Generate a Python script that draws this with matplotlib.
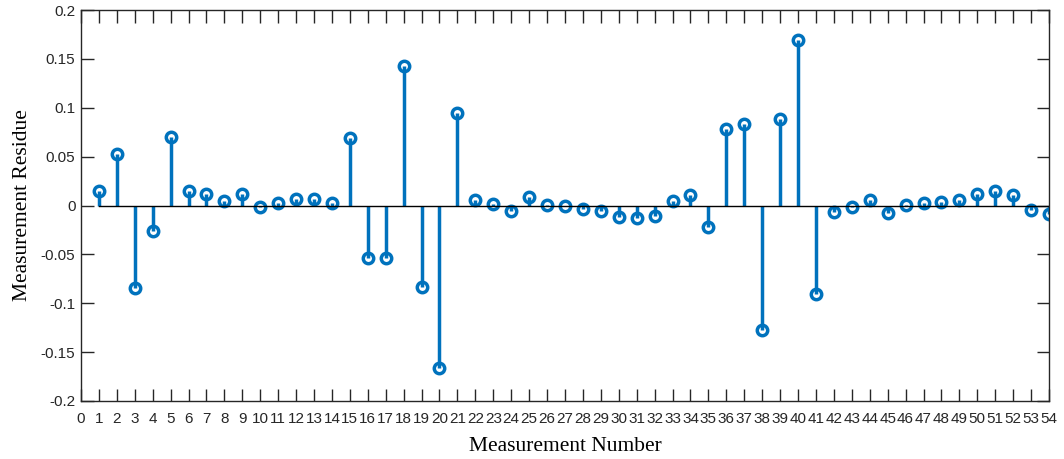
import matplotlib.pyplot as plt
import numpy as np

measurement = np.arange(1, 55)
residue = [0.015, 0.053, -0.084, -0.026, 0.070, 0.015, 0.012, 0.005, 0.012, -0.002,
           0.003, 0.007, 0.007, 0.003, 0.069, -0.054, -0.054, 0.143, -0.083, -0.166,
           0.095, 0.006, 0.002, -0.006, 0.009, 0.001, 0.000, -0.004, -0.006, -0.012,
           -0.013, -0.011, 0.005, 0.011, -0.022, 0.078, 0.083, -0.127, 0.089, 0.169,
           -0.091, -0.007, -0.002, 0.006, -0.008, 0.001, 0.003, 0.004, 0.006, 0.012,
           0.015, 0.011, -0.005, -0.009]
yticks = [-0.2, -0.15, -0.1, -0.05, 0, 0.05, 0.1, 0.15, 0.2]
ytick_labels = ['-0.2', '-0.15', '-0.1', '-0.05', '0', '0.05', '0.1', '0.15', '0.2']

blue = '#0072BD'

fig = plt.figure(figsize=(10.64, 4.59), dpi=100)
ax = fig.add_axes([0.0761, 0.1264, 0.9098, 0.8516])

markers, stems, base = ax.stem(measurement, residue)
plt.setp(stems, color=blue, linewidth=2.5)
plt.setp(markers, color=blue, markerfacecolor='none', markeredgewidth=2.5, markersize=7.5)
plt.setp(base, color='black', linewidth=1)

ax.set_xlim(0, 54)
ax.set_ylim(-0.2, 0.2)
ax.set_xticks(np.arange(0, 55))
ax.set_xticklabels([str(i) for i in range(55)], fontsize=11, family='Liberation Sans', color='#262626')
ax.set_yticks(yticks)
ax.set_yticklabels(ytick_labels, fontsize=11, family='Liberation Sans', color='#262626')
ax.tick_params(direction='in', length=9, width=1, top=True, right=True, color='#262626', pad=4)
ax.tick_params(axis='x', pad=8)
for sp in ax.spines.values():
    sp.set_color('#262626')
    sp.set_linewidth(1)

ax.set_xlabel('Measurement Number', family='Liberation Serif', fontsize=15.5, labelpad=8)
ax.set_ylabel('Measurement Residue', family='Liberation Serif', fontsize=15.5, labelpad=6)

fig.savefig('out.png', dpi=100)
